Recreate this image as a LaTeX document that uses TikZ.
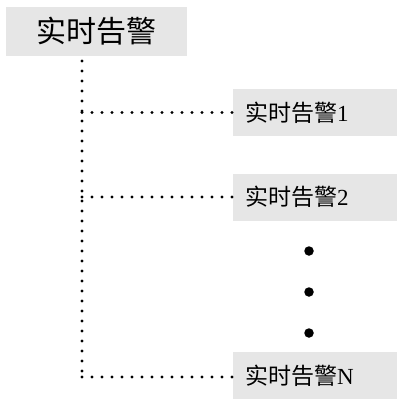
\documentclass[tikz,border=0pt]{standalone}
\usepackage{fontspec}
\setmainfont{Liberation Serif}
\newfontfamily\cjk{Noto Sans CJK SC}
\definecolor{boxgray}{HTML}{E6E6E6}
\begin{document}
\begin{tikzpicture}[x=1pt,y=-1pt,
  topbox/.style={fill=boxgray, minimum width=181pt, minimum height=49pt, inner sep=0pt, font=\fontsize{30}{33}\selectfont},
  itembox/.style={fill=boxgray, text width=140pt, align=left, inner xsep=12pt, inner ysep=0pt, minimum height=47pt, font=\fontsize{23}{27}\selectfont},
  dotline/.style={line width=3.2pt, line cap=round, dash pattern=on 0pt off 10pt},
  bigdot/.style={circle, fill=black, inner sep=0pt, minimum size=9.5pt}]
\useasboundingbox (0,0) rectangle (397,399);
\node[topbox] (top) at (96,31.5) {\cjk 实时告警};
\node[itembox] (b1) at (315,112.5) {{\cjk 实时告警}1};
\node[itembox] (b2) at (315,197) {{\cjk 实时告警}2};
\node[itembox] (bn) at (315,375.5) {{\cjk 实时告警}N};
\node[bigdot] (d1) at (309,251) {};
\node[bigdot] (d2) at (309,292) {};
\node[bigdot] (d3) at (309,333) {};
\coordinate (v0) at (82,61);
\coordinate (v1) at (82,377);
\draw[dotline] (v0) -- (v1);
\draw[dotline] (v0 |- b1.west) -- (b1.west);
\draw[dotline] (v0 |- b2.west) -- (b2.west);
\draw[dotline] (v1) -- (v1 -| bn.west);
\end{tikzpicture}
\end{document}
